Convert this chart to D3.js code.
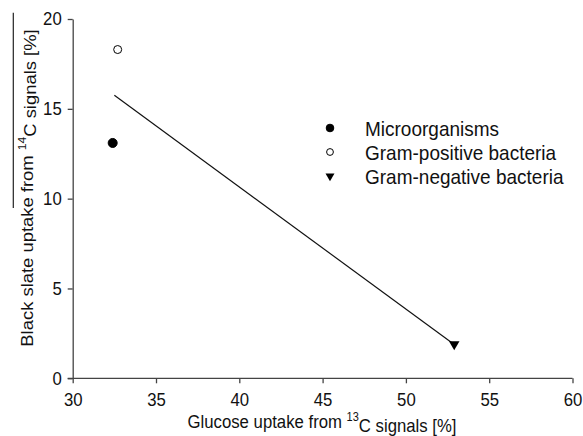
<!DOCTYPE html>
<html lang="en">
<head>
    <meta charset="UTF-8">
    <title>Black slate vs glucose uptake</title>
    <script src="https://d3js.org/d3.v7.min.js"></script>
    <style>
        body {
            margin: 0;
            background-color: #fff;
        }
        svg text {
            font-family: "Liberation Sans", Arial, sans-serif;
            fill: #111;
        }
    </style>
</head>
<body>
    <div id="chart"></div>

    <script>
        // Data
        const groups = ["Microorganisms", "Gram-positive bacteria", "Gram-negative bacteria"];
        const glucose = [32.4, 32.7, 52.9];      // x: glucose uptake from 13C signals [%]
        const blackSlate = [13.1, 18.3, 1.9];    // y: black slate uptake from 14C signals [%]
        const fitX = [32.5, 52.8];               // regression line ends
        const fitY = [15.75, 1.95];
        const xTicks = [30, 35, 40, 45, 50, 55, 60];
        const yTicks = [0, 5, 10, 15, 20];

        const width = 583;
        const height = 436;
        const sy = 1.1;        // the figure's text is slightly stretched vertically
        const fontSize = 16.75;

        const svg = d3.select("#chart")
            .append("svg")
            .attr("width", width)
            .attr("height", height);

        const x = d3.scaleLinear().domain([30, 60]).range([72.7, 572.5]);
        const y = d3.scaleLinear().domain([0, 20]).range([378.3, 19]);

        const axisColor = "#444";

        // X axis
        const xAxis = svg.append("g")
            .attr("transform", `translate(0,${y(0)})`)
            .call(d3.axisBottom(x).tickValues(xTicks).tickSize(5).tickPadding(8).tickSizeOuter(0));

        // Y axis
        const yAxis = svg.append("g")
            .attr("transform", `translate(${x(30)},0)`)
            .call(d3.axisLeft(y).tickValues(yTicks).tickSize(5).tickPadding(6).tickSizeOuter(0));

        [xAxis, yAxis].forEach(g => {
            g.select(".domain").attr("stroke", axisColor).attr("stroke-width", 1.3);
            g.selectAll(".tick line").attr("stroke", axisColor).attr("stroke-width", 1.3);
            g.selectAll(".tick text")
                .attr("font-size", fontSize)
                .attr("font-family", "Liberation Sans, Arial, sans-serif")
                .attr("fill", "#111")
                .attr("transform", `scale(1,${sy})`);
        });
        // extend x axis a bit left to meet the y tick at 0
        xAxis.select(".domain").attr("d", `M${x(30) - 5},0H${x(60)}`);

        // Regression line
        svg.append("line")
            .attr("x1", x(fitX[0]))
            .attr("y1", y(fitY[0]))
            .attr("x2", x(fitX[1]))
            .attr("y2", y(fitY[1]))
            .attr("stroke", "#111")
            .attr("stroke-width", 1.2);

        // Markers
        function drawMarker(g, i, cx, cy, scale) {
            if (i === 2) {
                g.append("path")
                    .attr("d", d3.symbol().type(d3.symbolTriangle).size(48 * scale * scale)())
                    .attr("transform", `translate(${cx},${cy}) rotate(180)`)
                    .attr("fill", "#000");
            } else {
                g.append("circle")
                    .attr("cx", cx)
                    .attr("cy", cy)
                    .attr("r", (i === 0 ? 4.5 : 4) * scale)
                    .attr("fill", i === 0 ? "#000" : "#fff")
                    .attr("stroke", "#000")
                    .attr("stroke-width", 1);
            }
        }

        const pts = svg.append("g");
        groups.forEach((_, i) => drawMarker(pts, i, x(glucose[i]), y(blackSlate[i]), 1));

        // Legend
        const legend = svg.append("g");
        groups.forEach((name, i) => {
            const ly = 128 + i * 24;
            drawMarker(legend, i, 330, ly, 0.85);
            legend.append("text")
                .attr("transform", `translate(365,${ly}) scale(1,${sy})`)
                .attr("dy", "0.36em")
                .attr("font-size", 19)
                .text(name);
        });

        // X axis label
        const xl = svg.append("text")
            .attr("transform", `translate(322,428) scale(1,${sy})`)
            .attr("text-anchor", "middle")
            .attr("font-size", fontSize);
        xl.append("tspan").text("Glucose uptake from ");
        xl.append("tspan").attr("font-size", 11).attr("dy", "-0.6em").text("13");
        xl.append("tspan").attr("dy", "0.6em").text("C signals [%]");

        // Y axis label
        const yl = svg.append("text")
            .attr("transform", `translate(33,188) scale(1,${sy}) rotate(-90)`)
            .attr("text-anchor", "middle")
            .attr("font-size", fontSize);
        yl.append("tspan").text("Black slate uptake from ");
        yl.append("tspan").attr("font-size", 11).attr("dy", "-0.6em").text("14");
        yl.append("tspan").attr("dy", "0.6em").text("C signals [%]");

        // stray overline above part of the y label, as in the figure
        svg.append("line")
            .attr("x1", 13.3).attr("x2", 13.3)
            .attr("y1", 12.7).attr("y2", 208)
            .attr("stroke", "#222")
            .attr("stroke-width", 1.2);
    </script>
</body>
</html>
